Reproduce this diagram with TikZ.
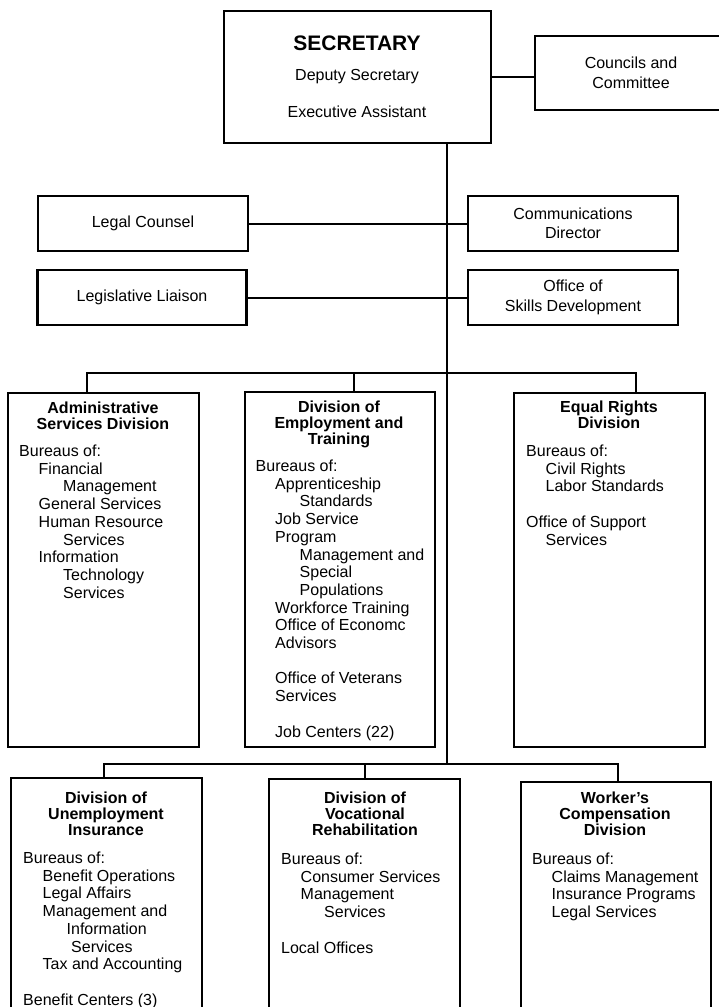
\documentclass[tikz,border=0pt]{standalone}
\usepackage{fontspec}
\setmainfont{Liberation Sans}
\newcommand{\indA}{\hspace*{19.5pt}}
\newcommand{\indB}{\hspace*{44pt}}
\tikzset{
  box/.style={draw, line width=2.6pt, inner sep=0pt, align=center, font=\fontsize{16}{19.5}\selectfont},
  title/.style={align=center, anchor=north, inner sep=0pt, font=\fontsize{16}{16}\selectfont\bfseries},
  body/.style={align=left, anchor=north west, inner sep=0pt, font=\fontsize{16}{17.7}\selectfont},
  link/.style={line width=2pt}
}

\begin{document}
\begin{tikzpicture}[x=1pt, y=-1pt]
\useasboundingbox (0,0) rectangle (718,1007);

\node[box, minimum width=267pt, minimum height=132pt] (sec) at (357.5,77) {};
\node[inner sep=0pt, anchor=north, align=center, font=\fontsize{16}{17.7}\selectfont] (sec-txt) at (357,36)
  {{\fontsize{21}{21}\selectfont\bfseries SECRETARY}\\[11.6pt] Deputy Secretary\\[19.6pt] Executive Assistant};
\node[box, minimum width=192pt, minimum height=74pt] (coun) at (631,73) {Councils and\\Committee};
\node[box, minimum width=210pt, minimum height=55pt] (legal) at (143,223.5) {Legal Counsel};
\node[box, minimum width=210pt, minimum height=55pt] (comm) at (573,223.5) {Communications\\Director};
\node[box, minimum width=209pt, minimum height=55pt] (legis) at (142,297.5) {Legislative Liaison};
\node[box, minimum width=210pt, minimum height=55pt] (skills) at (573,297.5) {Office of\\Skills Development};

\node[box, minimum width=191pt, minimum height=354pt] (admin) at (103.5,570) {};
\node[box, minimum width=190pt, minimum height=355pt] (emp) at (340,569.5) {};
\node[box, minimum width=191pt, minimum height=354pt] (equal) at (609.5,570) {};
\node[box, minimum width=191pt, minimum height=262pt] (unemp) at (106.5,909) {};
\node[box, minimum width=191pt, minimum height=261pt] (voc) at (364.5,909.5) {};
\node[box, minimum width=190pt, minimum height=258pt] (work) at (616,911) {};

\node[title] (admin-title) at (103,401.8) {Administrative\\Services Division};
\node[body] (admin-body) at (19,444.8) {Bureaus of:\\ \indA Financial\\ \indB Management\\ \indA General Services\\
  \indA Human Resource\\ \indB Services\\ \indA Information\\ \indB Technology\\ \indB Services};
\node[title] (emp-title) at (339,400.8) {Division of\\Employment and\\Training};
\node[body] (emp-body) at (255.5,459.8) {Bureaus of:\\ \indA Apprenticeship\\ \indB Standards\\ \indA Job Service\\
  \indA Program\\ \indB Management and\\ \indB Special\\ \indB Populations\\ \indA Workforce Training\\
  \indA Office of Economc\\ \indA Advisors\\[17.7pt] \indA Office of Veterans\\ \indA Services\\[17.7pt] \indA Job Centers (22)};
\node[title] (equal-title) at (609,400.8) {Equal Rights\\Division};
\node[body] (equal-body) at (526,444.8) {Bureaus of:\\ \indA Civil Rights\\ \indA Labor Standards\\[17.7pt]
  Office of Support\\ \indA Services};

\node[title] (unemp-title) at (106,791.8) {Division of\\Unemployment\\Insurance};
\node[body] (unemp-body) at (23,851.8) {Bureaus of:\\ \indA Benefit Operations\\ \indA Legal Affairs\\ \indA Management and\\
  \hspace*{43.5pt}Information\\ \hspace*{48pt}Services\\ \indA Tax and Accounting\\[17.7pt] Benefit Centers (3)};
\node[title] (voc-title) at (365,791.8) {Division of\\Vocational\\Rehabilitation};
\node[body] (voc-body) at (281,852.8) {Bureaus of:\\ \indA Consumer Services\\ \indA Management\\ \hspace*{43pt}Services\\[17.7pt]
  Local Offices};
\node[title] (work-title) at (615,791.8) {Worker’s\\Compensation\\Division};
\node[body] (work-body) at (532,852.8) {Bureaus of:\\ \indA Claims Management\\ \indA Insurance Programs\\ \indA Legal Services};

\coordinate (bar1) at (447,373);
\coordinate (bar2) at (447,764);
\coordinate (d-admin) at (87,373);
\coordinate (d-emp) at (354,373);
\coordinate (d-equal) at (636,373);
\coordinate (d-unemp) at (104,764);
\coordinate (d-voc) at (365,764);
\coordinate (d-work) at (618,764);

\draw[link] (sec.east) -- (sec.east -| coun.west);
\draw[link] (sec.south -| bar1) -- (bar2);
\draw[link] (legal) -- (comm);
\draw[link] (legis) -- (skills);
\draw[link] (d-admin |- admin.north) -- (d-admin) -- (d-equal) -- (d-equal |- equal.north);
\draw[link] (d-emp) -- (d-emp |- emp.north);
\draw[link] (d-unemp |- unemp.north) -- (d-unemp) -- (d-work) -- (d-work |- work.north);
\draw[link] (d-voc) -- (d-voc |- voc.north);
\end{tikzpicture}
\end{document}
